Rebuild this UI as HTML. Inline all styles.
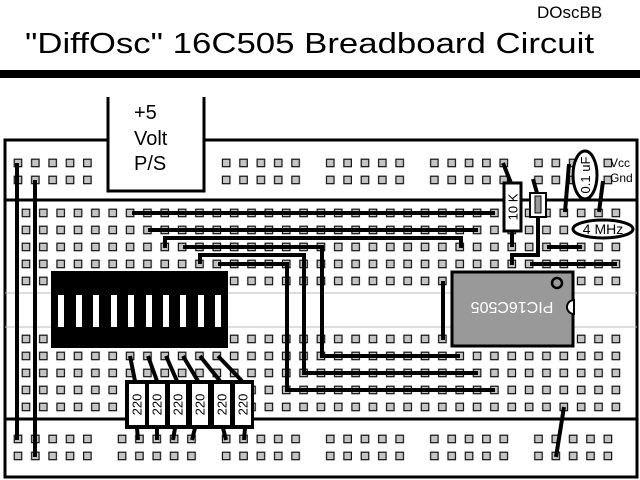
<!DOCTYPE html>
<html><head><meta charset="utf-8"><style>html,body{margin:0;padding:0;background:#fff}svg{display:block}</style></head>
<body>
<svg width="640" height="480" viewBox="0 0 640 480" xmlns="http://www.w3.org/2000/svg" font-family="Liberation Sans, sans-serif">
<defs>
<pattern id="m1" patternUnits="userSpaceOnUse" x="17.325" y="204.5" width="17.35" height="17"><rect x="4.9" y="4.7" width="7.5" height="7.5" fill="#c4c4c4" stroke="#111" stroke-width="1.2"/></pattern>
<pattern id="m2" patternUnits="userSpaceOnUse" x="17.325" y="330.5" width="17.35" height="17"><rect x="4.9" y="4.7" width="7.5" height="7.5" fill="#c4c4c4" stroke="#111" stroke-width="1.2"/></pattern>
<pattern id="r1" patternUnits="userSpaceOnUse" x="9.325" y="154.5" width="104.1" height="17"><g fill="#c4c4c4" stroke="#111" stroke-width="1.2"><rect x="4.9" y="4.7" width="7.5" height="7.5"/><rect x="22.25" y="4.7" width="7.5" height="7.5"/><rect x="39.6" y="4.7" width="7.5" height="7.5"/><rect x="56.95" y="4.7" width="7.5" height="7.5"/><rect x="74.3" y="4.7" width="7.5" height="7.5"/></g></pattern>
<pattern id="r2" patternUnits="userSpaceOnUse" x="9.325" y="430.5" width="104.1" height="17"><g fill="#c4c4c4" stroke="#111" stroke-width="1.2"><rect x="4.9" y="4.7" width="7.5" height="7.5"/><rect x="22.25" y="4.7" width="7.5" height="7.5"/><rect x="39.6" y="4.7" width="7.5" height="7.5"/><rect x="56.95" y="4.7" width="7.5" height="7.5"/><rect x="74.3" y="4.7" width="7.5" height="7.5"/></g></pattern>
</defs>
<text x="537" y="18" font-size="17">DOscBB</text>
<text x="25" y="53" font-size="29" textLength="569" lengthAdjust="spacingAndGlyphs">"DiffOsc" 16C505 Breadboard Circuit</text>
<rect x="0" y="70" width="640" height="8" fill="#000"/>
<g stroke="#000" stroke-width="3" fill="none">
<polyline points="108,140 5,140 5,477 637,477 637,140 204,140"/>
<line x1="5" y1="200" x2="637" y2="200"/>
<line x1="5" y1="419" x2="637" y2="419"/>
</g>
<line x1="5" y1="293" x2="637" y2="293" stroke="#bbb" stroke-width="1"/>
<line x1="5" y1="327" x2="637" y2="327" stroke="#bbb" stroke-width="1"/>
<polyline points="108,97 108,191 204,191 204,97" stroke="#000" stroke-width="3" fill="#fff"/>
<g font-size="20"><text x="134" y="119">+5</text><text x="134" y="145">Volt</text><text x="134" y="170">P/S</text></g>
<rect x="9.3" y="154.5" width="104.1" height="34" fill="url(#r1)"/>
<rect x="217.5" y="154.5" width="416.4" height="34" fill="url(#r1)"/>
<rect x="9.3" y="430.5" width="624.6" height="34" fill="url(#r2)"/>
<rect x="17.3" y="204.5" width="607.3" height="85" fill="url(#m1)"/>
<rect x="17.3" y="330.5" width="607.3" height="85" fill="url(#m2)"/>
<rect x="51" y="271" width="177" height="77" fill="#000"/>
<g fill="#fff"><rect x="58" y="295" width="6" height="32"/><rect x="76" y="295" width="6" height="32"/><rect x="93" y="295" width="6" height="32"/><rect x="111" y="295" width="6" height="32"/><rect x="128" y="295" width="6" height="32"/><rect x="146" y="295" width="6" height="32"/><rect x="163" y="295" width="6" height="32"/><rect x="180" y="295" width="6" height="32"/><rect x="198" y="295" width="6" height="32"/><rect x="215" y="295" width="6" height="32"/></g>
<rect x="452" y="272" width="121" height="74" fill="#999" stroke="#000" stroke-width="3"/>
<circle cx="557" cy="283" r="5" fill="none" stroke="#000" stroke-width="2.5"/>
<path d="M574,300 A7,7 0 0 0 574,314 Z" fill="#fff" stroke="#000" stroke-width="2"/>
<text x="512" y="314" font-size="16" fill="#fff" text-anchor="middle" transform="rotate(180 512 308)">PIC16C505</text>
<g stroke="#000" stroke-width="4" fill="none" stroke-linecap="butt">
<line x1="17" y1="163" x2="17" y2="440"/>
<line x1="35" y1="180" x2="35" y2="457"/>
<line x1="132" y1="213" x2="495" y2="213"/>
<line x1="148" y1="230" x2="478" y2="230"/>
<polyline points="165,248 165,238 461,238 461,248"/>
<polyline points="183,247 322,247 322,356 460,356"/>
<polyline points="200,264 200,255 304,255 304,373 478,373"/>
<polyline points="218,264 287,264 287,390 495,390"/>
<line x1="443" y1="281" x2="443" y2="340"/>
<line x1="547" y1="247" x2="582" y2="247"/>
<line x1="530" y1="264" x2="617" y2="264"/>
<line x1="564" y1="407" x2="556" y2="457"/>
<line x1="503" y1="163" x2="511" y2="183"/>
<line x1="512" y1="232" x2="512" y2="247"/>
<line x1="533" y1="179" x2="537" y2="193"/>
<polyline points="538,217 538,255 512,255 512,265"/>
<line x1="569" y1="164" x2="565" y2="212"/>
<line x1="603" y1="181" x2="599" y2="212"/>
<line x1="130" y1="356" x2="135" y2="381"/>
<line x1="148" y1="356" x2="157" y2="381"/>
<line x1="166" y1="356" x2="177" y2="381"/>
<line x1="183" y1="356" x2="198" y2="381"/>
<line x1="200" y1="356" x2="220" y2="381"/>
<line x1="218" y1="356" x2="242" y2="381"/>
<line x1="137" y1="428" x2="138" y2="440"/>
<line x1="157" y1="428" x2="157" y2="440"/>
<line x1="175" y1="428" x2="173" y2="440"/>
<line x1="195" y1="428" x2="192" y2="440"/>
<line x1="223" y1="428" x2="226" y2="440"/>
<line x1="245" y1="428" x2="244" y2="440"/>
</g>
<rect x="504" y="183" width="17" height="48" fill="#fff" stroke="#000" stroke-width="3"/>
<text x="512.5" y="212" font-size="13" text-anchor="middle" transform="rotate(-90 512.5 207)">10 K</text>
<rect x="530" y="193" width="16" height="24" fill="#fff" stroke="#000" stroke-width="2"/>
<rect x="535" y="196" width="6" height="17" fill="#999" stroke="#000" stroke-width="1"/>
<ellipse cx="585" cy="175" rx="12" ry="24" fill="#fff" stroke="#000" stroke-width="3"/>
<text x="585" y="180" font-size="13" text-anchor="middle" transform="rotate(-90 585 175)">0.1 uF</text>
<g font-size="12"><text x="610" y="167">Vcc</text><text x="610" y="182">Gnd</text></g>
<ellipse cx="603" cy="229" rx="30" ry="9" fill="#fff" stroke="#000" stroke-width="3"/>
<text x="603" y="234" font-size="14" text-anchor="middle">4 MHz</text>
<rect x="125" y="380" width="129" height="49" fill="#000"/>
<g fill="#fff"><rect x="129" y="384" width="16" height="41"/><rect x="149" y="384" width="16" height="41"/><rect x="170" y="384" width="16" height="41"/><rect x="192" y="384" width="16" height="41"/><rect x="214" y="384" width="16" height="41"/><rect x="235" y="384" width="16" height="41"/></g>
<g font-size="13" text-anchor="middle">
<text x="137" y="409" transform="rotate(-90 137 404.5)">220</text>
<text x="157" y="409" transform="rotate(-90 157 404.5)">220</text>
<text x="178" y="409" transform="rotate(-90 178 404.5)">220</text>
<text x="200" y="409" transform="rotate(-90 200 404.5)">220</text>
<text x="222" y="409" transform="rotate(-90 222 404.5)">220</text>
<text x="243" y="409" transform="rotate(-90 243 404.5)">220</text>
</g>
</svg>
</body></html>
